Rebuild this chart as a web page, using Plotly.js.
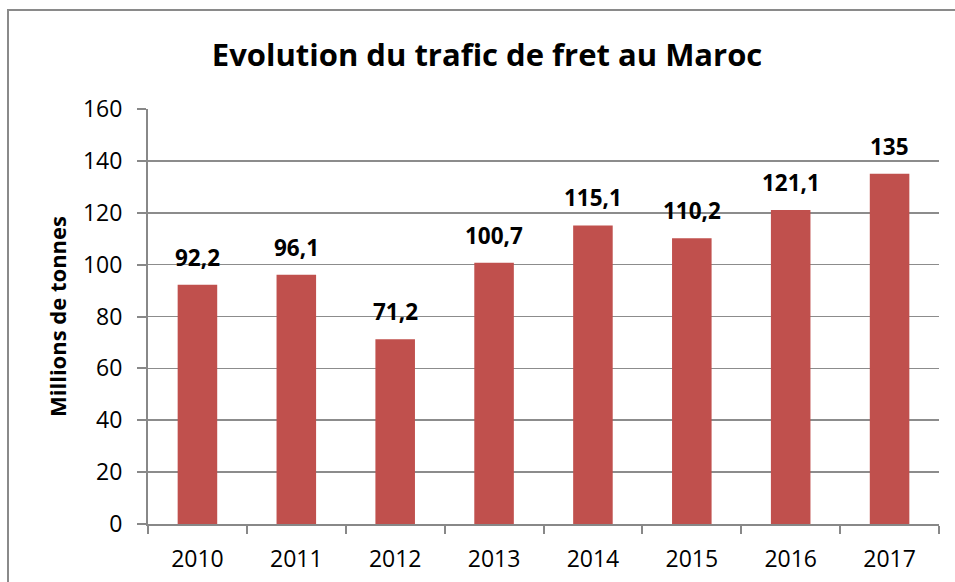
<!DOCTYPE html>
<html>
<head>
<meta charset="utf-8">
<script src="https://cdn.plot.ly/plotly-3.0.1.min.js"></script>
<style>
  html, body { margin: 0; padding: 0; background: #fff; }
  #wrap { position: relative; width: 955px; height: 582px; overflow: hidden; }
  #chart { position: absolute; left: 0; top: 0; width: 955px; height: 582px; }
  #frame { position: absolute; left: 7px; top: 9px; width: 1000px; height: 700px;
           border-left: 2px solid #8a8a8a; border-top: 2px solid #8a8a8a; pointer-events: none; }
</style>
</head>
<body>
<div id="wrap">
  <div id="chart"></div>
  <div id="frame"></div>
</div>
<script>
const years = ['2010', '2011', '2012', '2013', '2014', '2015', '2016', '2017'];
const traffic = [92.2, 96.1, 71.2, 100.7, 115.1, 110.2, 121.1, 135];
const yTicks = [0, 20, 40, 60, 80, 100, 120, 140, 160];

const FONT = 'Open Sans, Liberation Sans, sans-serif';
const labels = traffic.map(v => String(v).replace('.', ','));

const trace = {
  type: 'bar',
  x: years,
  y: traffic,
  marker: { color: '#C0504D', line: { width: 0 } },
  hoverinfo: 'x+y'
};

const annotations = years.map((yr, i) => ({
  x: i, y: traffic[i], xref: 'x', yref: 'y',
  text: '<b>' + labels[i] + '</b>', showarrow: false, yanchor: 'bottom', yshift: 10,
  font: { family: FONT, size: 22.5, color: '#000' }
}));

const layout = {
  width: 955, height: 582,
  margin: { l: 148, r: 16, t: 109, b: 58, pad: 0 },
  paper_bgcolor: 'rgba(0,0,0,0)',
  plot_bgcolor: '#fff',
  bargap: 0.6,
  showlegend: false,
  title: {
    text: '<b>Evolution du trafic de fret au Maroc</b>',
    font: { family: FONT, size: 31, color: '#000' },
    x: 0.51, xanchor: 'center', y: 0.905, yanchor: 'middle'
  },
  xaxis: {
    type: 'category',
    range: [-0.5, years.length - 0.5],
    autorange: false,
    showline: true, linecolor: '#888888', linewidth: 2,
    ticks: 'outside', tickson: 'boundaries', ticklen: 8, tickcolor: '#888888', tickwidth: 2,
    showgrid: false, zeroline: false,
    tickfont: { family: FONT, size: 23, color: '#000' },
    ticklabelstandoff: 13
  },
  yaxis: {
    range: [0, 160],
    autorange: false,
    tickvals: yTicks,
    ticktext: yTicks.map(String),
    showline: true, linecolor: '#888888', linewidth: 2,
    ticks: 'outside', ticklen: 9, tickcolor: '#888888', tickwidth: 2,
    showgrid: true, gridcolor: '#8c8c8c', gridwidth: 1.6,
    zeroline: false,
    tickfont: { family: FONT, size: 23, color: '#000' },
    ticklabelstandoff: 10,
    title: {
      text: '<b>Millions de tonnes</b>',
      font: { family: FONT, size: 22, color: '#000' },
      standoff: 10
    }
  },
  annotations: annotations
};

Plotly.newPlot('chart', [trace], layout, { displayModeBar: false, staticPlot: true });
</script>
</body>
</html>
